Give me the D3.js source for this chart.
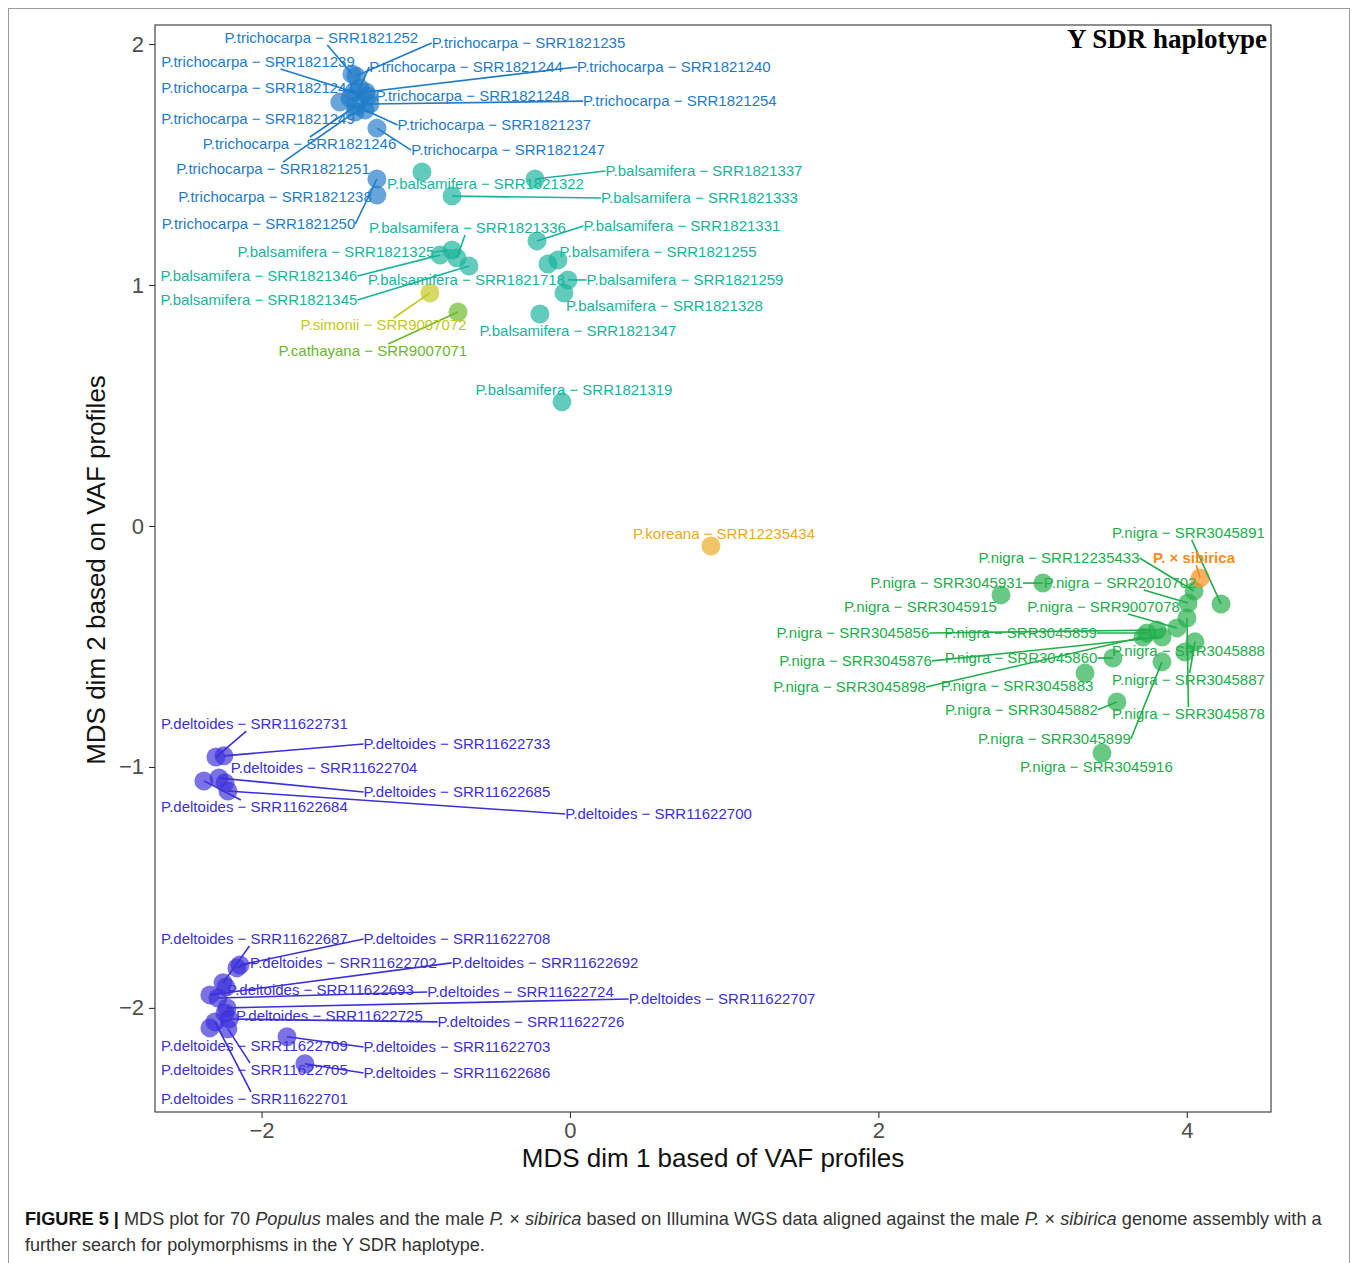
<!DOCTYPE html>
<html>
<head>
<meta charset="utf-8">
<script src="https://cdn.jsdelivr.net/npm/d3@7"></script>
<style>
  body { margin: 0; background: #fff; }
  svg { display: block; }
</style>
</head>
<body>
<script>
// ---- species (groups) ----
const speciesNames = ["P.trichocarpa", "P.balsamifera", "P.simonii", "P.cathayana",
                      "P.koreana", "P.nigra", "P. × sibirica", "P.deltoides"];
const speciesColors = ["#1f7bc8", "#17b39c", "#c3c81a", "#6ab82a",
                       "#e8aa1c", "#20ae4a", "#ff8a16", "#3b2fd9"];

// ---- samples: species index, accession, MDS coordinates, repelled label position ----
const sampleSpecies = [
  0,0,0,0,0,0,0,0,0,0,0,0,0,0,0,
  1,1,1,1,1,1,1,1,1,1,1,1,1,1,
  2, 3, 4,
  5,5,5,5,5,5,5,5,5,5,5,5,5,5,5,5,5,5,
  6,
  7,7,7,7,7,7,7,7,7,7,7,7,7,7,7,7,7,7,7,7
];
const sampleIds = [
  "SRR1821252","SRR1821235","SRR1821239","SRR1821241","SRR1821244","SRR1821240","SRR1821248",
  "SRR1821254","SRR1821249","SRR1821237","SRR1821246","SRR1821247","SRR1821251","SRR1821250","SRR1821238",
  "SRR1821322","SRR1821337","SRR1821333","SRR1821331","SRR1821346","SRR1821325","SRR1821336",
  "SRR1821345","SRR1821718","SRR1821255","SRR1821259","SRR1821328","SRR1821347","SRR1821319",
  "SRR9007072","SRR9007071","SRR12235434",
  "SRR3045931","SRR3045915","SRR3045891","SRR12235433","SRR2010702","SRR9007078","SRR3045878",
  "SRR3045887","SRR3045888","SRR3045856","SRR3045859","SRR3045876","SRR3045898","SRR3045860",
  "SRR3045883","SRR3045882","SRR3045899","SRR3045916",
  "",
  "SRR11622731","SRR11622733","SRR11622684","SRR11622685","SRR11622704","SRR11622700",
  "SRR11622708","SRR11622702","SRR11622687","SRR11622693","SRR11622692","SRR11622724",
  "SRR11622707","SRR11622725","SRR11622726","SRR11622701","SRR11622709","SRR11622705",
  "SRR11622703","SRR11622686"
];
const dim1 = [
  -1.414,-1.388,-1.401,-1.427,-1.362,-1.323,-1.310,-1.297,-1.492,-1.329,-1.388,-1.252,-1.394,-1.252,-1.252,
  -0.960,-0.227,-0.765,-0.214,-0.843,-0.765,-0.733,-0.655,-0.143,-0.078,-0.013,-0.039,-0.195,-0.052,
  -0.908,-0.726,0.914,
  3.067,2.795,4.222,4.047,4.008,3.936,4.001,4.053,3.988,3.807,3.742,3.839,3.716,3.521,3.340,3.547,3.839,3.450,
  4.086,
  -2.296,-2.244,-2.374,-2.276,-2.237,-2.218,-2.140,-2.160,-2.250,-2.231,-2.335,-2.283,-2.224,-2.237,-2.211,
  -2.302,-2.335,-2.218,-1.835,-1.719
];
const dim2 = [
  1.876,1.867,1.801,1.776,1.817,1.801,1.784,1.751,1.759,1.726,1.743,1.651,1.718,1.440,1.373,
  1.469,1.440,1.369,1.183,1.124,1.145,1.112,1.079,1.087,1.104,1.021,0.967,0.880,0.515,
  0.967,0.888,-0.083,
  -0.237,-0.286,-0.324,-0.270,-0.320,-0.423,-0.382,-0.481,-0.523,-0.432,-0.444,-0.461,-0.461,-0.548,-0.610,-0.730,-0.564,-0.942,
  -0.216,
  -0.959,-0.954,-1.058,-1.046,-1.066,-1.100,-1.822,-1.834,-1.896,-1.913,-1.946,-1.959,-2.000,-2.021,-2.046,
  -2.058,-2.083,-2.087,-2.120,-2.232
];
const labelDim1 = [
  -1.612,-0.269,-2.023,-2.023,-0.674,0.674,-0.632,0.713,-2.023,-0.490,-1.754,-0.402,-1.926,-2.020,-1.913,
  -0.548,0.869,0.840,0.726,-2.017,-1.518,-0.665,-2.017,-0.671,0.571,0.746,0.613,0.052,0.026,
  -1.209,-1.278,0.999,
  2.442,2.273,4.011,3.171,3.567,3.460,4.011,4.011,4.011,1.835,2.922,1.852,1.813,2.925,2.899,2.928,3.142,3.414,
  4.047,
  -2.046,-0.733,-2.046,-0.733,-1.595,0.574,-0.733,-1.469,-2.046,-1.618,-0.162,-0.321,0.986,-1.560,-0.253,
  -2.046,-2.046,-2.046,-0.733,-0.733
];
const labelDim2 = [
  2.025,2.004,1.925,1.817,1.905,1.905,1.784,1.763,1.689,1.664,1.585,1.560,1.481,1.253,1.365,
  1.419,1.473,1.361,1.245,1.037,1.137,1.237,0.938,1.021,1.137,1.021,0.913,0.809,0.564,
  0.834,0.726,-0.033,
  -0.237,-0.336,-0.029,-0.133,-0.237,-0.336,-0.780,-0.639,-0.519,-0.444,-0.444,-0.560,-0.668,-0.548,-0.664,-0.763,-0.884,-1.000,
  -0.133,
  -0.822,-0.905,-1.166,-1.104,-1.004,-1.195,-1.714,-1.813,-1.714,-1.925,-1.813,-1.934,-1.963,-2.033,-2.058,
  -2.378,-2.158,-2.257,-2.162,-2.270
];

const xTicks = [-2, 0, 2, 4];
const yTicks = [-2, -1, 0, 1, 2];
const xTitle = "MDS dim 1 based of VAF profiles";
const yTitle = "MDS dim 2 based on VAF profiles";
const panelTitle = "Y SDR haplotype";
const sibiricaIndex = 6;

// ---- layout ----
const W = 1357, H = 1263;
const panel = { left: 155, right: 1271, top: 25, bottom: 1112 };

const svg = d3.select("body").append("svg").attr("width", W).attr("height", H);

// figure frame
svg.append("rect")
  .attr("x", 8.5).attr("y", 8.5).attr("width", 1341).attr("height", 1275)
  .attr("fill", "none").attr("stroke", "#9a9a9a").attr("stroke-width", 1);

const x = d3.scaleLinear().domain([-2.691, 4.546]).range([panel.left, panel.right]);
const y = d3.scaleLinear().domain([-2.432, 2.079]).range([panel.bottom, panel.top]);

const samples = dim1.map((d, i) => ({
  sp: sampleSpecies[i],
  id: sampleIds[i],
  x: d, y: dim2[i],
  lx: labelDim1[i], ly: labelDim2[i]
}));

// axes
const minusFmt = d => d3.format("d")(d).replace("-", "\u2212");
const xAxis = svg.append("g")
  .attr("transform", `translate(0,${panel.bottom})`)
  .call(d3.axisBottom(x).tickValues(xTicks).tickSize(6).tickPadding(4).tickFormat(minusFmt));
const yAxis = svg.append("g")
  .attr("transform", `translate(${panel.left},0)`)
  .call(d3.axisLeft(y).tickValues(yTicks).tickSize(6).tickPadding(5).tickFormat(minusFmt));
[xAxis, yAxis].forEach(g => {
  g.select(".domain").remove();
  g.selectAll(".tick line").attr("stroke", "#333").attr("stroke-width", 1.1);
  g.selectAll(".tick text").attr("fill", "#4d4d4d")
    .style("font-family", "'Liberation Sans', Arial, sans-serif").style("font-size", "22px");
});

// panel border
svg.append("rect")
  .attr("x", panel.left).attr("y", panel.top)
  .attr("width", panel.right - panel.left).attr("height", panel.bottom - panel.top)
  .attr("fill", "none").attr("stroke", "#333").attr("stroke-width", 1.1);

// axis titles
svg.append("text")
  .attr("x", 713).attr("y", 1167).attr("text-anchor", "middle")
  .style("font-family", "'Liberation Sans', Arial, sans-serif").style("font-size", "26px")
  .attr("fill", "#111").text(xTitle);
svg.append("text")
  .attr("transform", "translate(105,570) rotate(-90)").attr("text-anchor", "middle")
  .style("font-family", "'Liberation Sans', Arial, sans-serif").style("font-size", "26px")
  .attr("fill", "#111").text(yTitle);

// points
svg.append("g").selectAll("circle").data(samples).join("circle")
  .attr("cx", d => x(d.x)).attr("cy", d => y(d.y)).attr("r", 9.5)
  .attr("fill", d => speciesColors[d.sp]).attr("fill-opacity", 0.68);

// labels with connector segments (drawn only when the label sits clear of its point)
const segG = svg.append("g");
const labG = svg.append("g");
samples.forEach(d => {
  const isSib = d.sp === sibiricaIndex;
  const txt = isSib ? speciesNames[d.sp] : `${speciesNames[d.sp]} \u2212 ${d.id}`;
  const cx = x(d.lx), cy = y(d.ly);
  const t = labG.append("text")
    .attr("x", cx).attr("y", cy + 5.3).attr("text-anchor", "middle")
    .style("font-family", "'Liberation Sans', Arial, sans-serif")
    .style("font-size", "15px")
    .style("font-weight", isSib ? "bold" : "normal")
    .attr("fill", speciesColors[d.sp]).text(txt);
  const w = t.node().getComputedTextLength();
  const b = { x1: cx - w / 2, x2: cx + w / 2, y1: cy - 7, y2: cy + 7, cx, cy };
  const px = x(d.x), py = y(d.y);
  const nx = Math.max(b.x1, Math.min(b.x2, px));
  const ny = Math.max(b.y1, Math.min(b.y2, py));
  if (Math.hypot(nx - px, ny - py) <= 12) return;
  let a;
  if (px < b.x1) a = [b.x1, b.cy];
  else if (px > b.x2) a = [b.x2, b.cy];
  else if (py < b.y1) a = [b.cx + (px - b.cx) * (b.y1 - b.cy) / (py - b.cy), b.y1];
  else a = [b.cx + (px - b.cx) * (b.y2 - b.cy) / (py - b.cy), b.y2];
  segG.append("line")
    .attr("x1", px).attr("y1", py).attr("x2", a[0]).attr("y2", a[1])
    .attr("stroke", speciesColors[d.sp]).attr("stroke-width", 1.6);
});

// panel title
svg.append("text")
  .attr("x", 1267).attr("y", 48).attr("text-anchor", "end")
  .style("font-family", "'Liberation Serif', 'Times New Roman', serif")
  .style("font-size", "27px").style("font-weight", "bold")
  .attr("fill", "#000").text(panelTitle);

// caption
function captionLine(yPos, parts, targetWidth) {
  const g = svg.append("g");
  const t = g.append("text").attr("x", 0).attr("y", 0)
    .style("font-family", "'Liberation Sans', Arial, sans-serif").style("font-size", "18px")
    .attr("fill", "#333");
  parts.forEach(p => {
    const s = t.append("tspan").text(p.t);
    if (p.b) s.style("font-weight", "bold").attr("fill", "#111");
    if (p.i) s.style("font-style", "italic");
  });
  const w = t.node().getComputedTextLength();
  g.attr("transform", `translate(25,${yPos}) scale(${targetWidth / w},1)`);
}
captionLine(1225, [
  { t: "FIGURE 5 | ", b: true },
  { t: "MDS plot for 70 " }, { t: "Populus", i: true }, { t: " males and the male " },
  { t: "P.", i: true }, { t: " \u00d7 " }, { t: "sibirica", i: true },
  { t: " based on Illumina WGS data aligned against the male " },
  { t: "P.", i: true }, { t: " \u00d7 " }, { t: "sibirica", i: true },
  { t: " genome assembly with a" }
], 1297);
captionLine(1251, [{ t: "further search for polymorphisms in the Y SDR haplotype." }], 460);
</script>
</body>
</html>
